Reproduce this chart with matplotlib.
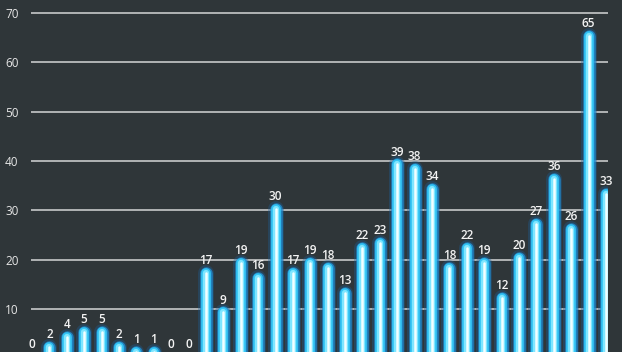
import numpy as np
import matplotlib
matplotlib.use('Agg')
import matplotlib.pyplot as plt

# values, left to right
values = [0, 2, 4, 5, 5, 2, 1, 1, 0, 0, 17, 9, 19, 16, 30, 17, 19, 18, 13,
          22, 23, 39, 38, 34, 18, 22, 19, 12, 20, 27, 36, 26, 65, 33]
y_ticks = [10, 20, 30, 40, 50, 60, 70]

bg = '#2f3639'
W, H = 622, 352

fig = plt.figure(figsize=(W / 100, H / 100), dpi=100, facecolor=bg)

# axes placed in pixels; the zero line sits just below the picture
px_per_unit = (309 - 13) / 60.0
y_zero = 13 + 70 * px_per_unit
y_top = 72
ax_h = y_top * px_per_unit
ax = fig.add_axes([31 / W, (H - y_zero) / H, (608 - 31) / W, ax_h / H])
ax.set_facecolor(bg)

step = (606 - 32) / 33.0
x = np.arange(len(values))
ax.set_xlim(-1 / step, 33 + 2 / step)
ax.set_ylim(0, y_top)

# grid lines
for t in y_ticks:
    ax.axhline(t, color='#d4d6d6', lw=1.1, zorder=1)

# glowing bars: stacked round-capped lines
layers = [
    (11.5, '#1b5f9a', 0.35),
    (9.0, '#1f8fd6', 0.8),
    (7.0, '#33c4f4', 1.0),
    (4.5, '#7fe6ff', 1.0),
    (1.8, '#f2ffff', 1.0),
]
for xi, v in zip(x, values):
    if v == 0:
        continue
    for lw, col, a in layers:
        ax.plot([xi, xi], [-5, v + 0.3], color=col, lw=lw, alpha=a,
                solid_capstyle='round', zorder=2)

# value labels
for xi, v in zip(x, values):
    ax.annotate(str(v), (xi, v), xytext=(0, 10), textcoords='offset points',
                ha='center', va='center', color='#f4f4f4', fontsize=8.5,
                fontweight='semibold', fontfamily='Open Sans', zorder=3,
                annotation_clip=False)

ax.set_yticks(y_ticks)
ax.set_yticklabels([str(t) for t in y_ticks], fontfamily='Open Sans')
ax.tick_params(axis='y', length=0, pad=9, colors='#e6e6e6', labelsize=8.5)
ax.set_xticks([])
for s in ax.spines.values():
    s.set_visible(False)

fig.savefig('out.png', dpi=100, facecolor=bg)
